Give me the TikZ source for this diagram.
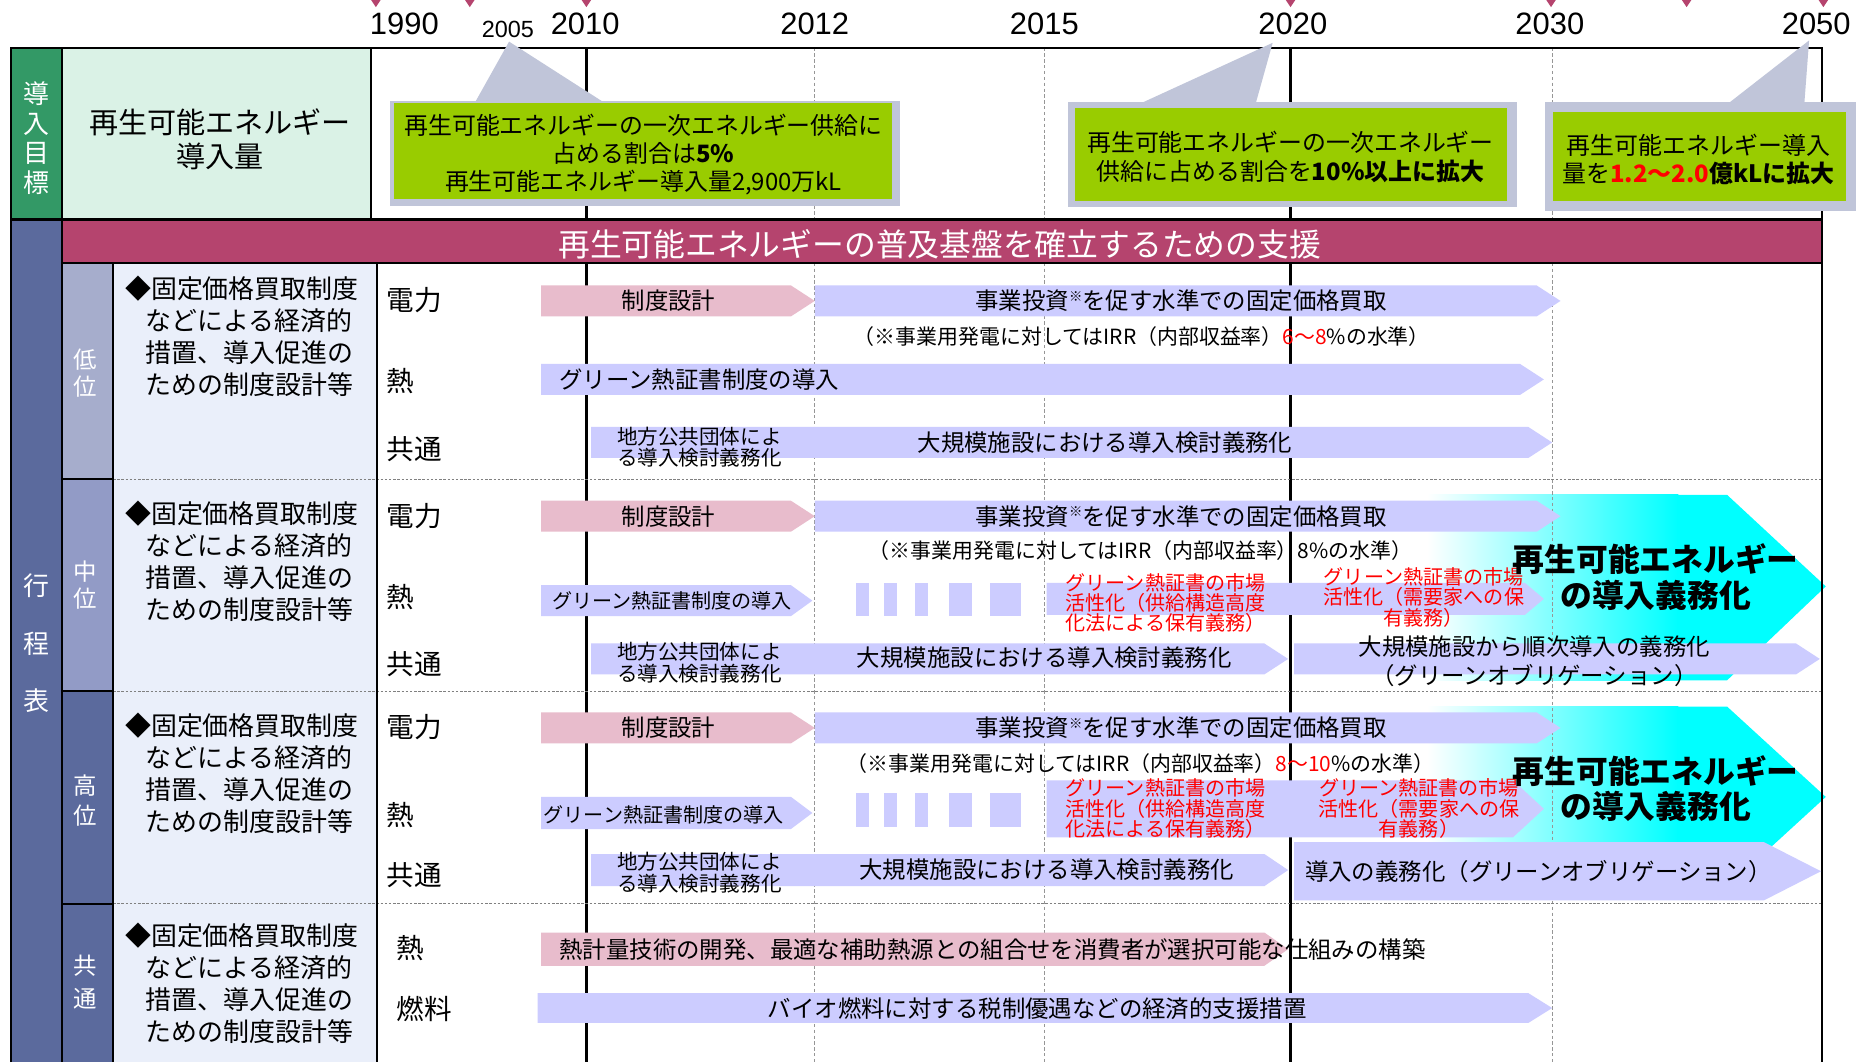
\documentclass[tikz,border=0pt]{standalone}
\usepackage{fontspec}
\setmainfont{Noto Sans CJK JP}
\newfontfamily\latin{Liberation Sans}
\definecolor{goalgreen}{RGB}{51,153,102}
\definecolor{goalmint}{RGB}{218,242,230}
\definecolor{headmagenta}{RGB}{181,68,110}
\definecolor{plannavy}{RGB}{91,106,157}
\definecolor{lowblue}{RGB}{166,173,204}
\definecolor{midblue}{RGB}{146,155,198}
\definecolor{desclav}{RGB}{234,239,250}
\definecolor{barpink}{RGB}{232,188,204}
\definecolor{barlav}{RGB}{204,204,255}
\definecolor{targetgreen}{RGB}{153,204,0}
\definecolor{calloutgray}{RGB}{192,197,217}
\definecolor{gridgray}{RGB}{150,150,150}
\definecolor{dutycyan}{RGB}{0,255,255}
% chevron bar: [tip]{colour}{x1}{x2}{y1}{y2}
\newcommand{\chevbar}[6][20]{%
  \fill[#2] (#3,#5) -- ({#4-#1},#5) -- (#4,{(#5+#6)/2}) -- ({#4-#1},#6) -- (#3,#6) -- cycle;}
\newcommand{\kome}{\raisebox{0.35em}{\fontsize{8}{8}\selectfont ※}}

\begin{document}
\begin{tikzpicture}[x=0.025cm, y=-0.025cm,
    year/.style={font=\latin\fontsize{18.5}{20}\selectfont, inner sep=0},
    frameline/.style={black, line width=1.2pt},
    yearline/.style={black, line width=1.4pt},
    gridline/.style={gridgray, line width=0.4pt, dash pattern=on 2pt off 1.5pt},
    rowsep/.style={gray, line width=0.6pt, dash pattern=on 1.5pt off 1pt},
    goaltext/.style={font=\fontsize{14.3}{17}\selectfont, align=center, inner sep=0},
    vlabel/.style={white, align=center, inner sep=0},
    desc/.style={font=\fontsize{15.5}{19.1}\selectfont, align=left, anchor=west, inner sep=0},
    cat/.style={font=\fontsize{16.5}{18}\selectfont, anchor=west, inner sep=0},
    bartext/.style={font=\fontsize{14}{16}\selectfont, inner sep=0},
    smalltext/.style={font=\fontsize{12.3}{13.1}\selectfont, align=center, inner sep=0},
    note/.style={font=\fontsize{12.5}{14}\selectfont, inner sep=0},
    redtext/.style={red, font=\fontsize{12}{12.2}\selectfont, align=center, inner sep=0},
    bigtext/.style={font=\bfseries\fontsize{19}{21.3}\selectfont, align=center, inner sep=0}]
    \useasboundingbox (0,0) rectangle (1568,893);
    \fill[white] (0,0) rectangle (1568,893);

    % Year marks
    \foreach \xx in {316,395,493,1085,1304,1418,1533} {
        \fill[headmagenta] (\xx-4,0) -- (\xx+4,0) -- (\xx,6) -- cycle;
    }
    \foreach \yr/\xx in {1990/340,2010/492,2012/685,2015/878,2020/1087,2030/1303,2050/1527} {
        \node[year] (y\yr) at (\xx,20) {\yr};
    }
    \node[year, font=\latin\fontsize{14}{15}\selectfont] (y2005) at (427,25) {2005};

    % Cells
    \fill[goalgreen] (9,40) rectangle (52,184);
    \fill[goalmint] (52,40) rectangle (312,184);
    \fill[plannavy] (9,186) rectangle (52,893);
    \fill[lowblue] (52,221) rectangle (95,403);
    \fill[midblue] (52,403) rectangle (95,581);
    \fill[plannavy] (52,581) rectangle (95,893);
    \fill[desclav] (95,221) rectangle (317,893);
    \fill[headmagenta] (52,186) rectangle (1532,221);

    % Obligation arrows (cyan)
    \shade[left color=white, right color=dutycyan] (1200,416) rectangle (1411,572);
    \fill[dutycyan] (1410,416) -- (1452,416) -- (1535,493) -- (1452,572) -- (1410,572) -- cycle;
    \shade[left color=white, right color=dutycyan] (1200,594) rectangle (1411,746);
    \fill[dutycyan] (1410,594) -- (1452,594) -- (1535,670) -- (1452,746) -- (1410,746) -- cycle;

    % Grid
    \foreach \xx in {685,878,1305} {
        \draw[gridline] (\xx,40) -- (\xx,183);
        \draw[gridline] (\xx,221) -- (\xx,893);
    }
    \foreach \xx in {493,1085} {
        \draw[yearline] (\xx,40) -- (\xx,183);
        \draw[yearline] (\xx,221) -- (\xx,893);
    }
    \foreach \yy in {403,581,760} {
        \draw[rowsep] (95,\yy) -- (1532,\yy);
        \draw[frameline] (52,\yy) -- (95,\yy);
    }
    \draw[frameline] (9,893) -- (9,40) -- (1532,40) -- (1532,893);
    \draw[black, line width=2.2pt] (9,184.5) -- (1532,184.5);
    \draw[frameline] (52,40) -- (52,893);
    \draw[frameline] (312,40) -- (312,183);
    \draw[frameline] (52,221) -- (1532,221);
    \draw[frameline] (95,221) -- (95,893);
    \draw[frameline] (317,221) -- (317,893);

    % Targets
    \fill[calloutgray] (400,85) -- (428,35) -- (506,85) -- cycle;
    \fill[calloutgray] (328,85) rectangle (757,173);
    \fill[targetgreen] (331,87) rectangle (750,167);
    \fill[calloutgray] (961,86) -- (1070,36) -- (1056,86) -- cycle;
    \fill[calloutgray] (898,86) rectangle (1275,174);
    \fill[targetgreen] (904,91) rectangle (1267,169);
    \fill[calloutgray] (1453,87) -- (1521,34) -- (1517,87) -- cycle;
    \fill[calloutgray] (1299,86) rectangle (1560,177);
    \fill[targetgreen] (1306,94) rectangle (1552,169);
    \node[goaltext] (goal2010) at (541,130) {再生可能エネルギーの一次エネルギー供給に\\占める割合は\textbf{5\%}\\再生可能エネルギー導入量2,900万kL};
    \node[goaltext] (goal2020) at (1085,132) {再生可能エネルギーの一次エネルギー\\供給に占める割合を\textbf{10\%以上に拡大}};
    \node[goaltext] (goal2050) at (1428,134) {再生可能エネルギー導入\\量を\textbf{\textcolor{red}{1.2～2.0}億kLに拡大}};

    % Left headings
    \node[vlabel, font=\fontsize{15.5}{17.7}\selectfont] (goal-head) at (31,116) {導\\入\\目\\標};
    \node[font=\fontsize{17.4}{19.9}\selectfont, align=center, inner sep=0] (goal-amount) at (185,117) {再生可能エネルギー\\導入量};
    \node[white, font=\fontsize{19}{21}\selectfont, inner sep=0] (support-head) at (790,205) {再生可能エネルギーの普及基盤を確立するための支援};
    \node[vlabel, font=\fontsize{15.5}{34.4}\selectfont] (plan-head) at (31,541) {行\\程\\表};
    \node[vlabel, font=\fontsize{14}{16.3}\selectfont] (lo-head) at (72,314) {低\\位};
    \node[vlabel, font=\fontsize{14}{16.3}\selectfont] (mid-head) at (72,492) {中\\位};
    \node[vlabel, font=\fontsize{14}{17.7}\selectfont] (hi-head) at (72,673) {高\\位};
    \node[vlabel, font=\fontsize{14}{19.9}\selectfont] (com-head) at (72,826) {共\\通};
    \foreach \nm/\yy in {lo/283,mid/472,hi/650,com/827} {
        \node[desc] (desc-\nm) at (105,\yy) {◆固定価格買取制度\\\hspace*{0.8em}などによる経済的\\\hspace*{0.8em}措置、導入促進の\\\hspace*{0.8em}ための制度設計等};
    }
    \foreach \nm/\yy/\txt in {lo-pw/252/電力,lo-heat/320/熱,lo-com/378/共通,mid-pw/434/電力,mid-heat/502/熱,mid-com/558/共通,hi-pw/611/電力,hi-heat/685/熱,hi-com/736/共通} {
        \node[cat] (cat-\nm) at (325,\yy) {\txt};
    }
    \node[cat] (cat-com-heat) at (333,797) {熱};
    \node[cat] (cat-com-fuel) at (333,848) {燃料};

    % Low case
    \chevbar{barpink}{455}{685}{240}{266}
    \chevbar{barlav}{685}{1312}{240}{266}
    \chevbar{barlav}{455}{1298}{306}{332}
    \chevbar{barlav}{497}{1305}{359}{385}
    \node[bartext] (lo-design) at (562,253) {制度設計};
    \node[bartext] (lo-buy) at (993,253) {事業投資\kome を促す水準での固定価格買取};
    \node[note] (lo-note) at (960,283) {（※事業用発電に対してはIRR（内部収益率）\textcolor{red}{6～8}\%の水準）};
    \node[bartext, anchor=west] (lo-cert) at (470,319) {グリーン熱証書制度の導入};
    \node[smalltext] (lo-local) at (588,376) {地方公共団体によ\\る導入検討義務化};
    \node[bartext] (lo-large) at (929,372) {大規模施設における導入検討義務化};

    % Middle case
    \chevbar{barpink}{455}{685}{421}{447}
    \chevbar{barlav}{685}{1312}{421}{447}
    \chevbar[18]{barlav}{455}{683}{492}{518}
    \foreach \a/\b in {720/731,743/754,769/780,798/817,832/858} {
        \fill[barlav] (\a,490) rectangle (\b,518);
        \fill[barlav] (\a,667) rectangle (\b,695);
    }
    \chevbar[16]{barlav}{880}{1298}{490}{517}
    \chevbar{barlav}{497}{1083}{541}{567}
    \chevbar{barlav}{1088}{1530}{541}{567}
    \node[bartext] (mid-design) at (562,434) {制度設計};
    \node[bartext] (mid-buy) at (993,434) {事業投資\kome を促す水準での固定価格買取};
    \node[note] (mid-note) at (959,463) {（※事業用発電に対してはIRR（内部収益率）8\%の水準）};
    \node[font=\fontsize{12}{13}\selectfont, inner sep=0] (mid-cert) at (565,505) {グリーン熱証書制度の導入};
    \node[redtext] (mid-market) at (980,507) {グリーン熱証書の市場\\活性化（供給構造高度\\化法による保有義務）};
    \node[redtext] (mid-demand) at (1197,502) {グリーン熱証書の市場\\活性化（需要家への保\\有義務）};
    \node[smalltext] (mid-local) at (588,557) {地方公共団体によ\\る導入検討義務化};
    \node[bartext] (mid-large) at (878,553) {大規模施設における導入検討義務化};
    \node[bartext, align=center, font=\fontsize{14}{17}\selectfont] (mid-green) at (1290,556) {大規模施設から順次導入の義務化\\（グリーンオブリゲーション）};
    \node[bigtext] (mid-duty) at (1392,485) {再生可能エネルギー\\の導入義務化};

    % High case
    \chevbar{barpink}{455}{685}{599}{625}
    \chevbar{barlav}{685}{1312}{599}{625}
    \chevbar[18]{barlav}{455}{683}{670}{697}
    \chevbar[26]{barlav}{880}{1298}{656}{704}
    \chevbar{barlav}{497}{1083}{718}{745}
    \chevbar[48]{barlav}{1088}{1531}{708}{757}
    \node[bartext] (hi-design) at (562,612) {制度設計};
    \node[bartext] (hi-buy) at (993,612) {事業投資\kome を促す水準での固定価格買取};
    \node[note] (hi-note) at (959,642) {（※事業用発電に対してはIRR（内部収益率）\textcolor{red}{8～10}\%の水準）};
    \node[font=\fontsize{12}{13}\selectfont, inner sep=0] (hi-cert) at (558,685) {グリーン熱証書制度の導入};
    \node[redtext] (hi-market) at (980,680) {グリーン熱証書の市場\\活性化（供給構造高度\\化法による保有義務）};
    \node[redtext] (hi-demand) at (1193,680) {グリーン熱証書の市場\\活性化（需要家への保\\有義務）};
    \node[smalltext] (hi-local) at (588,734) {地方公共団体によ\\る導入検討義務化};
    \node[bartext] (hi-large) at (880,731) {大規模施設における導入検討義務化};
    \node[bartext, anchor=west] (hi-oblig) at (1097,733) {導入の義務化（グリーンオブリゲーション）};
    \node[bigtext] (hi-duty) at (1392,663) {再生可能エネルギー\\の導入義務化};

    % Common
    \chevbar{barpink}{455}{1083}{784}{812}
    \chevbar{barlav}{452}{1305}{835}{860}
    \node[bartext, anchor=west] (com-heat) at (470,798) {熱計量技術の開発、最適な補助熱源との組合せを消費者が選択可能な仕組みの構築};
    \node[bartext] (com-fuel) at (872,848) {バイオ燃料に対する税制優遇などの経済的支援措置};
\end{tikzpicture}
\end{document}
